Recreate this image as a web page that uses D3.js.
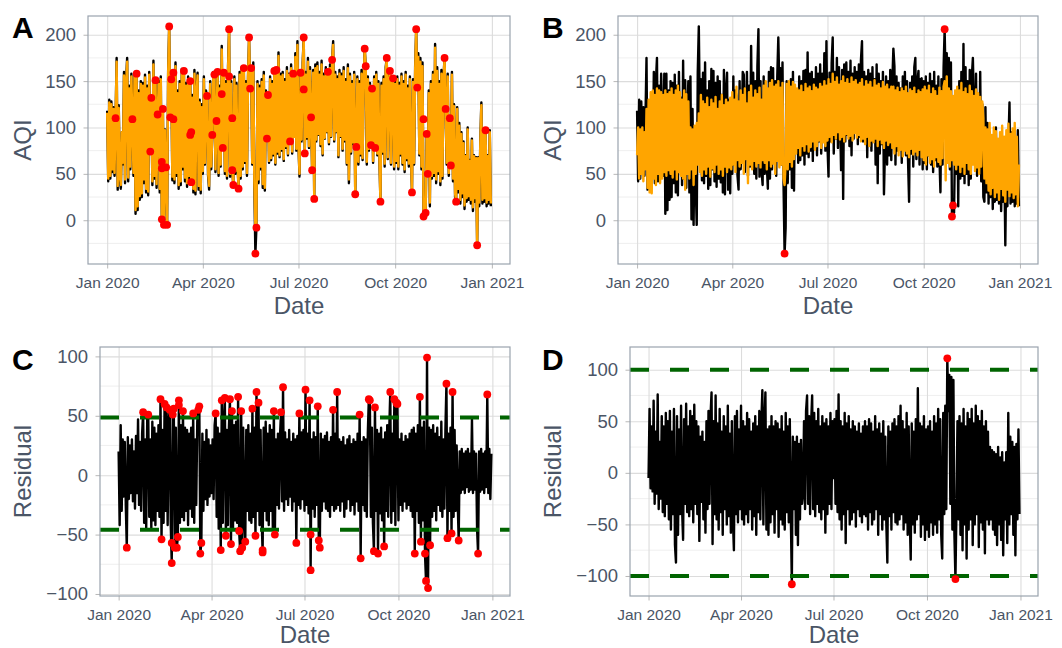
<!DOCTYPE html>
<html>
<head>
<meta charset="utf-8">
<script src="https://cdn.jsdelivr.net/npm/d3@7"></script>
<style>
  body { margin: 0; background: #fff; }
  text { font-family: "Liberation Sans", Arial, sans-serif; }
</style>
</head>
<body>
<svg id="chart" width="1062" height="648"></svg>
<script>
// daily series, one value per day from Jan 1 2020 (index 0) to Dec 31 2020 (index 365)
// observed AQI (black line in A and B)
const actualAQI = [
  118,42,130,45,128,52,122,48,110,175,33,124,45,34,95,60,160,40,150,175,42,145,55,158,109,48,158,7,158,11,140,
  22,150,25,148,40,157,30,145,27,160,74,132,38,172,45,151,35,114,150,30,155,1,120,-5,98,40,-5,160,209,
  111,152,43,159,40,170,48,140,34,150,38,163,55,161,42,148,36,155,45,150,41,135,30,162,28,140,159,33,130,29,125,
  50,155,60,140,134,48,33,150,55,92,160,157,52,107,160,48,145,58,188,78,159,50,150,45,166,206,47,150,54,38,
  155,50,148,60,34,160,45,165,55,164,62,150,48,155,197,142,164,60,170,38,-36,-8,150,40,145,55,152,35,160,32,140,
  88,135,62,155,65,150,70,161,60,162,72,181,68,158,75,160,64,152,78,165,70,158,85,168,72,158,90,180,75,193,
  80,47,159,85,170,197,72,160,88,175,78,165,111,54,162,23,168,85,170,92,160,80,172,70,158,88,165,95,160,82,168,
  90,173,193,85,160,95,155,68,162,90,158,75,165,85,152,60,168,40,158,72,150,82,160,28,79,155,60,150,70,162,65,
  150,185,166,60,155,75,148,81,142,62,155,78,160,70,150,65,20,148,72,155,58,165,175,66,150,161,60,152,153,55,
  150,62,155,55,148,70,158,60,150,52,160,65,145,58,155,68,30,152,60,165,206,143,180,70,175,55,170,4,16,8,93,
  50,140,15,150,45,160,48,190,40,165,50,150,38,162,45,155,175,120,60,158,48,110,59,160,42,125,25,20,122,30,
  105,18,95,25,85,12,70,20,100,22,65,18,88,10,70,20,68,-27,68,15,85,127,18,95,20,97,15,70,18,97,15
];

// model 1 fit (orange line in A)
const fittedA = [
  116,45,127,48,125,55,120,51,110,171,37,121,48,38,95,62,156,44,147,171,46,142,58,155,109,51,155,11,156,15,137,
  26,147,29,145,44,154,34,142,31,157,74,130,42,168,48,150,39,114,147,34,152,1,118,-5,97,44,-5,157,209,
  111,150,47,157,44,166,51,137,38,147,42,159,58,160,46,145,40,152,48,148,42,132,34,158,32,137,156,37,127,33,122,
  53,152,62,137,134,51,37,147,58,92,157,157,55,107,159,51,142,60,184,78,158,53,147,48,162,206,50,147,54,39,
  152,53,145,62,35,157,48,161,58,163,64,147,51,152,197,142,163,62,166,42,-8,-8,147,44,142,58,149,39,156,35,137,
  88,134,64,152,67,147,72,160,62,161,74,177,70,155,77,157,66,149,80,161,72,157,85,164,74,157,90,176,77,189,
  82,50,158,87,166,197,72,157,90,171,80,161,111,54,159,23,164,87,166,93,157,82,168,72,155,89,161,96,160,84,164,
  91,173,189,87,157,96,152,70,158,91,155,77,161,87,149,62,164,44,155,74,147,84,157,28,79,152,63,147,72,158,67,
  147,185,166,63,152,77,145,81,142,64,152,78,157,72,147,67,20,145,74,152,61,161,175,68,147,161,62,149,153,58,
  147,64,152,58,145,72,155,62,147,55,157,67,142,61,152,70,30,149,62,161,206,143,176,72,171,58,166,4,18,8,93,
  50,137,19,147,48,157,51,186,44,161,53,147,42,158,48,152,175,120,62,155,51,110,59,157,45,123,29,20,120,34,
  102,22,93,29,83,16,69,24,98,26,64,22,86,14,69,24,67,-27,67,19,83,124,22,93,24,97,19,69,22,95,18
];

// model 2 fit (orange line in B)
const fittedB = [
  70,100,45,98,50,100,42,95,55,120,35,130,30,138,29,140,45,135,38,142,50,140,40,138,45,135,52,140,48,136,54,
  138,50,142,46,135,55,140,44,145,52,138,48,130,45,140,33,136,50,128,45,100,55,98,38,102,50,105,60,115,
  52,135,48,128,55,125,50,132,58,122,47,130,56,126,52,133,60,120,50,128,55,135,48,124,58,130,52,127,57,132,55,
  138,60,130,52,144,65,128,58,140,62,135,50,142,66,126,40,138,60,145,55,132,64,140,58,136,62,143,57,130,65,
  145,62,150,55,142,65,148,58,151,61,144,50,146,64,150,57,143,60,148,45,38,62,147,55,150,63,144,58,149,66,146,
  72,142,78,140,70,145,80,138,75,147,82,142,74,144,79,139,85,146,76,143,80,141,86,147,78,144,84,150,80,145,
  86,152,90,147,84,158,92,149,88,154,95,146,87,150,90,155,85,148,93,152,88,147,91,154,86,149,94,151,89,146,92,
  148,85,152,88,144,82,150,90,146,80,149,86,143,84,151,88,145,80,147,87,142,83,149,78,144,86,146,81,141,84,144,
  78,144,72,140,80,143,70,138,76,142,69,139,75,144,72,137,68,141,77,139,71,143,74,136,70,140,76,138,68,141,
  65,144,60,140,70,145,62,136,66,142,58,139,68,134,63,143,60,139,67,144,150,43,155,62,142,58,139,65,134,60,140,
  55,144,60,140,52,148,58,138,50,142,62,136,55,145,50,139,60,134,53,141,57,137,50,133,58,128,110,45,100,40,
  98,32,105,28,92,35,100,25,96,30,88,22,95,34,102,27,90,20,97,33,104,26,93,30,99,24,105,28,90,15,60
];

// residuals of model 1 (C)
const residualC = [
  20,-42,42,-30,30,-18,28,-25,-61,32,-20,25,-15,30,-22,20,-28,33,-15,47,-25,28,-30,35,53,-40,30,-45,48,51,-35,
  30,-45,45,-38,40,-42,35,-30,42,-35,64,-54,38,-40,60,-30,57,-42,45,55,-40,-74,51,56,-61,40,-61,-52,63,
  -40,42,-35,54,-38,40,-30,38,-42,35,-28,40,-35,52,-40,30,-25,45,55,58,-66,-57,35,-30,28,-20,38,-25,30,-18,25,
  -15,30,-20,42,52,-35,40,-45,35,-63,63,-40,45,65,-51,38,-42,40,64,-58,54,-45,42,-38,45,-40,66,-47,-64,54,
  -61,40,-35,-56,38,-30,42,-38,35,-40,56,-35,40,-51,70,-30,61,-42,38,-35,-65,40,-30,45,-38,35,-42,42,-30,38,-45,
  54,-50,30,-25,35,-28,32,53,-22,74,-30,36,-20,30,-25,38,-18,28,-30,35,-22,30,-57,33,-25,52,-28,36,-20,38,
  -30,72,-25,35,-32,63,-80,30,-28,36,-35,32,-25,58,-55,-61,35,-30,30,-22,33,-28,36,-30,28,-35,32,-25,55,-30,35,
  -28,70,-25,30,-30,28,-22,32,-35,25,-28,30,-20,33,-30,26,-25,30,-33,28,-22,35,-30,51,-70,28,-25,32,-30,30,-35,
  35,64,63,-35,40,-40,-64,57,-30,38,-66,35,-32,40,-38,30,-60,36,-30,42,-35,38,70,-40,35,-30,64,-42,61,60,
  -38,30,-25,35,-30,28,-22,33,-28,30,-25,35,-30,38,-35,40,-66,35,-30,42,-40,66,-56,40,-38,45,-66,-89,99,-95,40,
  -59,38,-35,42,-30,35,-38,40,-25,32,-30,45,-35,30,-28,38,77,-53,35,-30,40,-49,70,-35,38,-30,25,-22,-55,20,
  -15,22,-12,18,-15,20,-10,22,-14,18,-12,47,-15,20,-12,18,-45,-66,20,-14,22,-12,18,-15,20,-10,68,-15,22,-20,18
];

// residuals of model 2 (D)
const residualD = [
  -5,62,-15,45,-18,70,-30,40,-20,76,-35,30,-25,55,-38,45,-42,58,-30,50,-45,60,-55,40,-40,62,-70,-87,55,-60,42,
  -40,65,-35,-65,52,-30,67,-38,45,-42,60,-35,55,-48,66,-30,50,-40,45,-66,35,-28,40,-45,30,-58,50,-35,60,
  -30,55,78,-69,50,-40,75,-45,48,-55,62,-38,40,-60,55,-35,45,-50,65,-42,38,-58,50,-45,-75,55,-40,60,-48,42,-35,
  65,-45,50,-50,45,-40,58,-48,52,-35,40,-55,48,-42,55,-60,45,-38,60,-45,50,80,-50,48,78,-55,42,-60,45,-48,
  55,-40,45,-58,50,-35,48,-62,42,-45,55,-50,40,-55,58,-38,45,-48,52,-40,-108,35,-35,30,-60,35,-70,28,-45,32,-30,
  -20,50,-35,60,75,-30,55,-40,48,75,-35,58,-42,50,-30,62,-38,45,-45,55,-35,48,-58,52,-40,45,-30,58,-35,50,
  -5,52,-30,60,-38,76,-45,50,-55,45,-40,58,-68,48,-35,55,-50,42,-45,50,-38,45,-52,40,-35,48,-42,38,-48,45,-40,
  50,-42,45,-55,52,-38,48,-50,40,-45,55,-35,42,-60,48,-40,38,-55,50,-45,35,-50,-87,45,-42,40,-55,48,-38,52,-48,
  45,-50,55,-45,65,-40,50,-55,42,-48,58,-60,45,-42,-84,48,-50,40,-58,52,-45,82,-40,48,-62,45,-50,55,-65,42,
  -55,45,-62,50,-48,40,-60,55,-50,48,-58,62,-45,52,-60,-83,58,-40,65,-35,111,60,95,-30,93,-55,90,-60,-103,-35,50,
  -45,55,-60,48,-75,62,-50,45,-83,58,-55,52,-45,62,-70,48,-50,65,-40,55,-72,50,-48,60,-55,45,-78,50,-45,40,
  -50,25,-45,22,-55,20,-60,18,-70,25,-50,15,-65,20,-80,10,-45,20,-68,58,-50,35,-40,30,-60,25,-80,28,-45,42,-40
];

// flagged points: [day index, value]
const anomaliesA = [
  [8,110],[24,109],[28,158],[41,74],[42,132],[46,151],[48,114],[52,63],[52,56],[52,1],[53,120],
  [54,-5],[57,-5],[56,57],[59,209],[60,111],[61,152],[63,109],[63,159],[73,161],[79,150],[79,92],
  [80,95],[80,41],[95,134],[100,92],[102,157],[104,107],[105,160],[109,136],[110,78],[111,159],
  [116,206],[116,155],[119,110],[119,54],[120,38],[125,34],[130,164],[135,197],[136,142],[137,164],
  [142,-8],[141,-36],[152,88],[153,135],[159,161],[161,162],[174,85],[177,158],[184,159],[187,197],
  [187,141],[188,72],[194,111],[195,54],[197,23],[210,160],[214,173],[236,28],[237,79],[245,185],
  [246,166],[251,81],[252,142],[255,78],[260,20],[266,175],[269,161],[272,153],[290,30],[294,206],
  [295,143],[301,109],[301,4],[303,8],[304,93],[305,50],[321,175],[322,120],[326,110],[327,59],
  [332,20],[352,-27],[360,97]
];
const anomaliesB = [[141,-36],[294,206],[301,4],[302,16]];
const anomaliesC = [
  [24,53],[29,51],[41,64],[45,60],[47,57],[50,55],[53,51],[54,56],[59,63],[59,59],[63,54],[73,52],
  [78,55],[79,58],[95,52],[101,63],[104,65],[109,64],[111,54],[117,66],[120,54],[131,56],[135,70],
  [137,61],[152,54],[159,53],[161,74],[177,52],[183,72],[187,63],[195,58],[210,55],[214,70],[236,51],
  [245,64],[246,63],[251,57],[266,70],[270,64],[272,61],[273,60],[295,66],[302,99],[321,77],[327,70],[361,68],
  [8,-61],[42,-54],[52,-57],[52,-74],[55,-61],[57,-61],[58,-52],[80,-66],[81,-57],[100,-63],[105,-51],
  [110,-58],[118,-47],[119,-64],[121,-61],[124,-56],[134,-51],[141,-63],[141,-65],[153,-50],[174,-57],
  [188,-80],[188,-50],[196,-55],[197,-61],[237,-70],[250,-64],[254,-66],[260,-60],[290,-66],[296,-56],
  [300,-66],[301,-89],[303,-95],[305,-59],[322,-53],[326,-49],[333,-55],[352,-66]
];
const anomaliesD = [[141,-108],[294,111],[302,-103]];

const thresholdsC = [48.5, -46];
const thresholdsD = [100, -100];

const xTickDates = ["2020-01-01", "2020-04-01", "2020-07-01", "2020-10-01", "2021-01-01"];
const xTickLabels = ["Jan 2020", "Apr 2020", "Jul 2020", "Oct 2020", "Jan 2021"];
const aqiTicks = [0, 50, 100, 150, 200];
const aqiMinor = [-25, 25, 75, 125, 175];
const residTicks = [-100, -50, 0, 50, 100];
const residMinor = [-75, -25, 25, 75];

// helpers
const startDay = new Date(2020, 0, 1);
const dayDate = (i) => d3.timeDay.offset(startDay, i);
const parseDay = d3.timeParse("%Y-%m-%d");
const tickDates = xTickDates.map(parseDay);
const xDomain = [d3.timeHour.offset(startDay, -438), d3.timeHour.offset(new Date(2020, 11, 31), 438)];

const svg = d3.select("#chart");
const textColor = "#4a5566";

function drawPanel(cfg) {
  const x = d3.scaleTime().domain(xDomain).range([cfg.left, cfg.right]);
  const y = d3.scaleLinear().domain(cfg.yDomain).range([cfg.bottom, cfg.top]);
  const w = cfg.right - cfg.left;
  const h = cfg.bottom - cfg.top;
  const g = svg.append("g");

  // minor horizontal grid
  g.selectAll("line.minor")
    .data(cfg.yMinor)
    .enter()
    .append("line")
    .attr("x1", cfg.left)
    .attr("x2", cfg.right)
    .attr("y1", (d) => y(d))
    .attr("y2", (d) => y(d))
    .attr("stroke", "#ededed")
    .attr("stroke-width", 0.9);

  // major grid + ticks via axes
  const gy = g.append("g")
    .attr("transform", `translate(${cfg.left},0)`)
    .call(d3.axisLeft(y).tickValues(cfg.yTicks).tickSize(-w).tickFormat(""));
  gy.select(".domain").remove();
  gy.selectAll("line").attr("stroke", "#dcdcdc").attr("stroke-width", 1.1);

  const gx = g.append("g")
    .attr("transform", `translate(0,${cfg.bottom})`)
    .call(d3.axisBottom(x).tickValues(tickDates).tickSize(-h).tickFormat(""));
  gx.select(".domain").remove();
  gx.selectAll("line").attr("stroke", "#dcdcdc").attr("stroke-width", 1.1);

  // outer tick marks and labels
  const ay = g.append("g")
    .attr("transform", `translate(${cfg.left},0)`)
    .call(d3.axisLeft(y).tickValues(cfg.yTicks).tickSize(4.5).tickPadding(7.5));
  ay.select(".domain").remove();
  ay.selectAll("line").attr("stroke", "#b8b8b8");
  ay.selectAll("text")
    .attr("fill", textColor)
    .style("font-size", "18.5px")
    .style("font-family", '"Liberation Sans", Arial, sans-serif');

  const ax = g.append("g")
    .attr("transform", `translate(0,${cfg.bottom})`)
    .call(d3.axisBottom(x).tickValues(tickDates).tickSize(4.5).tickPadding(8)
      .tickFormat((d, i) => xTickLabels[i]));
  ax.select(".domain").remove();
  ax.selectAll("line").attr("stroke", "#b8b8b8");
  ax.selectAll("text")
    .attr("fill", textColor)
    .style("font-size", "15.5px")
    .style("font-family", '"Liberation Sans", Arial, sans-serif');

  // clip for data
  const clipId = "clip" + cfg.label;
  svg.append("clipPath").attr("id", clipId)
    .append("rect")
    .attr("x", cfg.left).attr("y", cfg.top)
    .attr("width", w).attr("height", h);
  const plot = g.append("g").attr("clip-path", `url(#${clipId})`);

  const line = d3.line()
    .x((d, i) => x(dayDate(i)))
    .y((d) => y(d));

  cfg.series.forEach((s) => {
    plot.append("path")
      .datum(s.values)
      .attr("d", line)
      .attr("fill", "none")
      .attr("stroke", s.color)
      .attr("stroke-width", 2.4)
      .attr("stroke-linejoin", "round");
  });

  // threshold lines
  plot.selectAll("line.thr")
    .data(cfg.thresholds || [])
    .enter()
    .append("line")
    .attr("x1", cfg.left)
    .attr("x2", cfg.right)
    .attr("y1", (d) => y(d))
    .attr("y2", (d) => y(d))
    .attr("stroke", "#006400")
    .attr("stroke-width", 4)
    .attr("stroke-dasharray", "19 21");

  // flagged points
  plot.selectAll("circle.anom")
    .data(cfg.points)
    .enter()
    .append("circle")
    .attr("cx", (d) => x(dayDate(d[0])))
    .attr("cy", (d) => y(d[1]))
    .attr("r", 3.9)
    .attr("fill", "#ff0000");

  // panel border
  g.append("rect")
    .attr("x", cfg.left).attr("y", cfg.top)
    .attr("width", w).attr("height", h)
    .attr("fill", "none")
    .attr("stroke", "#9aa3ae")
    .attr("stroke-width", 1.2);

  // axis titles
  g.append("text")
    .attr("x", (cfg.left + cfg.right) / 2)
    .attr("y", cfg.dateY)
    .attr("text-anchor", "middle")
    .attr("fill", textColor)
    .style("font-size", "24px")
    .text("Date");

  g.append("text")
    .attr("transform", `translate(${cfg.titleX},${(cfg.top + cfg.bottom) / 2}) rotate(-90)`)
    .attr("text-anchor", "middle")
    .attr("fill", textColor)
    .style("font-size", "24px")
    .text(cfg.yTitle);

  // panel letter
  g.append("text")
    .attr("x", cfg.labelX)
    .attr("y", cfg.labelY)
    .attr("fill", "#000")
    .style("font-size", "30px")
    .style("font-weight", "bold")
    .text(cfg.label);
}

drawPanel({
  label: "A", labelX: 12, labelY: 38, titleX: 31, dateY: 314,
  left: 88, right: 510, top: 16, bottom: 264,
  yDomain: [-47.2, 220.2], yTicks: aqiTicks, yMinor: aqiMinor, yTitle: "AQI",
  series: [{ values: actualAQI, color: "#000" }, { values: fittedA, color: "#ffa500" }],
  points: anomaliesA
});

drawPanel({
  label: "B", labelX: 542, labelY: 38, titleX: 561, dateY: 314,
  left: 618, right: 1038, top: 16, bottom: 264,
  yDomain: [-47.2, 220.2], yTicks: aqiTicks, yMinor: aqiMinor, yTitle: "AQI",
  series: [{ values: actualAQI, color: "#000" }, { values: fittedB, color: "#ffa500" }],
  points: anomaliesB
});

drawPanel({
  label: "C", labelX: 12, labelY: 370, titleX: 31, dateY: 643,
  left: 100, right: 510, top: 347, bottom: 596,
  yDomain: [-101.7, 107.9], yTicks: residTicks, yMinor: residMinor, yTitle: "Residual",
  series: [{ values: residualC, color: "#000" }],
  thresholds: thresholdsC,
  points: anomaliesC
});

drawPanel({
  label: "D", labelX: 542, labelY: 370, titleX: 561, dateY: 643,
  left: 630, right: 1038, top: 347, bottom: 596,
  yDomain: [-119.4, 122], yTicks: residTicks, yMinor: residMinor, yTitle: "Residual",
  series: [{ values: residualD, color: "#000" }],
  thresholds: thresholdsD,
  points: anomaliesD
});
</script>
</body>
</html>
